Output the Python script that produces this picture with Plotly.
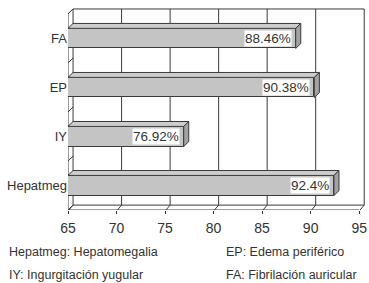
import plotly.graph_objects as go

categories = ["Hepatmeg", "IY", "EP", "FA"]
values = [92.4, 76.92, 90.38, 88.46]
labels = ["92.4%", "76.92%", "90.38%", "88.46%"]
x_ticks = [65, 70, 75, 80, 85, 90, 95]
notes_left = ["Hepatmeg: Hepatomegalia", "IY: Ingurgitación yugular"]
notes_right = ["EP: Edema periférico", "FA: Fibrilación auricular"]

XMIN, XMAX = 65, 95
DX, DY = 0.52, 0.1   # depth offset in data units
BW = 0.41
LINE = "#3a3a3a"
TXT = "#333333"
FONT = "Liberation Sans, Arial"
n = len(categories)
ytop = n - 0.5

fig = go.Figure()
fig.add_trace(go.Bar(
    y=list(range(n)), x=[v - XMIN for v in values], base=XMIN,
    orientation="h", width=BW,
    marker=dict(color="#c4c4c4", line=dict(color=LINE, width=1)),
    hoverinfo="skip", showlegend=False))

shapes = []

def seg(x0, y0, x1, y1, layer="below"):
    shapes.append(dict(type="line", layer=layer, x0=x0, x1=x1, y0=y0, y1=y1,
                       line=dict(color=LINE, width=1)))

# back wall border
seg(XMIN + DX, ytop + DY, XMAX + DX, ytop + DY)
seg(XMAX + DX, -0.5 + DY, XMAX + DX, ytop + DY)
seg(XMIN + DX, -0.5 + DY, XMAX + DX, -0.5 + DY)
seg(XMIN + DX, -0.5 + DY, XMIN + DX, ytop + DY)
# gridlines on back wall + floor diagonals
for t in x_ticks:
    if XMIN < t < XMAX:
        seg(t + DX, -0.5 + DY, t + DX, ytop + DY)
    seg(t - 0.12, -0.5 - 0.05, t + DX, -0.5 + DY)
# front floor edge
seg(XMIN, -0.5, XMAX, -0.5)
# left wall
seg(XMIN, -0.5, XMIN, ytop)
seg(XMIN, ytop, XMIN + DX, ytop + DY)
for k in range(n + 1):
    b = k - 0.5
    seg(XMIN - 0.25, b - 0.05, XMIN + DX, b + DY)

# 3D faces of bars
for i, v in enumerate(values):
    yt = i + BW / 2
    yb = i - BW / 2
    shapes.append(dict(type="path", layer="above",
                       path=f"M {XMIN},{yt} L {v},{yt} L {v + DX},{yt + DY} L {XMIN + DX},{yt + DY} Z",
                       fillcolor="#cdcdcd", line=dict(color=LINE, width=1)))
    shapes.append(dict(type="path", layer="above",
                       path=f"M {v},{yb} L {v},{yt} L {v + DX},{yt + DY} L {v + DX},{yb + DY} Z",
                       fillcolor="#a2a2a2", line=dict(color=LINE, width=1)))

annotations = []
for i, (v, lab) in enumerate(zip(values, labels)):
    annotations.append(dict(x=v, y=i, xref="x", yref="y", text=lab, showarrow=False,
                            xanchor="right", yanchor="middle", xshift=-4,
                            bgcolor="white", borderpad=0,
                            font=dict(family=FONT, size=13.5, color=TXT)))

W, H = 369, 283
ML, MR, MT, MB = 68, 2, 8, 73
pw, ph = W - ML - MR, H - MT - MB

def px_note(text, x, y):
    return dict(x=(x - ML) / pw, y=(H - MB - y) / ph, xref="paper", yref="paper",
                text=text, showarrow=False, xanchor="left", yanchor="middle",
                font=dict(family=FONT, size=12.5, color=TXT))

for j, t in enumerate(notes_left):
    annotations.append(px_note(t, 7, 252 + 23 * j))
for j, t in enumerate(notes_right):
    annotations.append(px_note(t, 225, 252 + 23 * j))

fig.update_layout(
    width=W, height=H, margin=dict(l=ML, r=MR, t=MT, b=MB),
    paper_bgcolor="white", plot_bgcolor="white",
    shapes=shapes, annotations=annotations, bargap=0,
    xaxis=dict(range=[XMIN, XMAX + DX + 0.08], tickvals=x_ticks, ticktext=[str(t) for t in x_ticks],
               showgrid=False, zeroline=False, showline=False, ticks="outside", ticklen=3,
               tickcolor=LINE, ticklabelstandoff=2, ticklabeloverflow="allow",
               tickfont=dict(family=FONT, size=14, color=TXT), fixedrange=True),
    yaxis=dict(range=[-0.5, ytop + DY + 0.02], tickvals=list(range(n)), ticktext=categories,
               showgrid=False, zeroline=False, showline=False, ticks="", ticklen=0,
               tickfont=dict(family=FONT, size=13, color=TXT), fixedrange=True),
    font=dict(family=FONT),
)
fig.write_html("out.html", config={"displayModeBar": False})
